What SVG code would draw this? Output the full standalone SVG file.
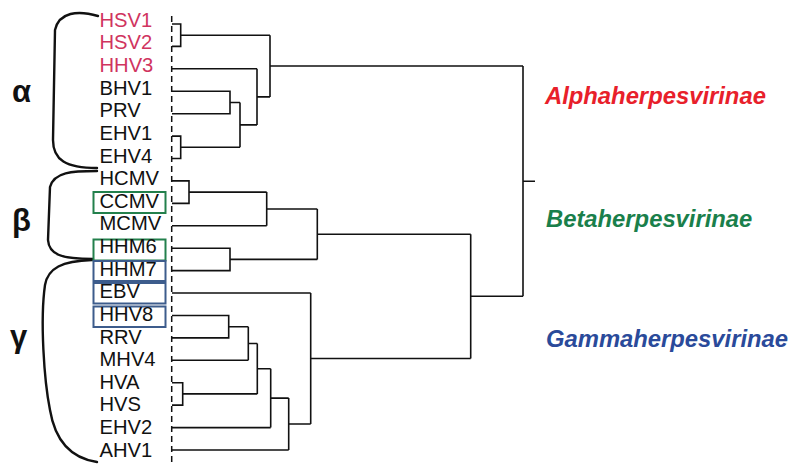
<svg xmlns="http://www.w3.org/2000/svg" width="790" height="464" viewBox="0 0 790 464">
<style>
.lbl{font-family:"Liberation Sans",Arial,sans-serif;font-size:20.2px;fill:#111}
.pink{fill:#d0345f}
.grk{font-family:"Liberation Sans",Arial,sans-serif;font-size:31px;font-weight:bold;fill:#111}
.fam{font-family:"Liberation Sans",Arial,sans-serif;font-size:23.8px;font-weight:bold;font-style:italic}
.tree{fill:none;stroke:#111;stroke-width:1.6}
.brace{fill:none;stroke:#111;stroke-width:2.4;stroke-linecap:round}
.gbox{fill:none;stroke:#23804c;stroke-width:2}
.bbox{fill:none;stroke:#3d5c8c;stroke-width:2}
</style>
<rect width="790" height="464" fill="#fff"/>
<g id="braces">
<path class="brace" d="M98,16 C78,10 59,12 55,30 L53,140 C53,160 66,168 97,168"/>
<path class="brace" d="M97,171 C72,171 54,172 50,187 L48,240 C49,254 60,259 93,259"/>
<path class="brace" d="M92,260 C62,261 48,268 45,285 C40,320 44,380 50,410 C55,440 70,458 97,462"/>
</g>
<g id="greek">
<text class="grk" x="12" y="101.7">α</text>
<text class="grk" x="12" y="231">β</text>
<text class="grk" x="10" y="347">γ</text>
</g>
<g id="boxes">
<rect class="gbox" x="93.5" y="192" width="72" height="21"/>
<rect class="gbox" x="93.5" y="239.5" width="72" height="21"/>
<rect class="bbox" x="93.5" y="261" width="72" height="20"/>
<rect class="bbox" x="93.5" y="283" width="72" height="20.5"/>
<rect class="bbox" x="93.5" y="306.5" width="72" height="20.5"/>
</g>
<g id="leaves">
<text class="lbl pink" x="99.5" y="26.7">HSV1</text>
<text class="lbl pink" x="99.5" y="49.3">HSV2</text>
<text class="lbl pink" x="99.5" y="72">HHV3</text>
<text class="lbl" x="99.5" y="94.6">BHV1</text>
<text class="lbl" x="99.5" y="117.2">PRV</text>
<text class="lbl" x="99.5" y="139.9">EHV1</text>
<text class="lbl" x="99.5" y="162.5">EHV4</text>
<text class="lbl" x="99.5" y="185.1">HCMV</text>
<text class="lbl" x="99.5" y="207.7">CCMV</text>
<text class="lbl" x="99.5" y="230.4">MCMV</text>
<text class="lbl" x="99.5" y="253">HHM6</text>
<text class="lbl" x="99.5" y="275.6">HHM7</text>
<text class="lbl" x="99.5" y="298.3">EBV</text>
<text class="lbl" x="99.5" y="320.9">HHV8</text>
<text class="lbl" x="99.5" y="343.5">RRV</text>
<text class="lbl" x="99.5" y="366.2">MHV4</text>
<text class="lbl" x="99.5" y="388.8">HVA</text>
<text class="lbl" x="99.5" y="411.4">HVS</text>
<text class="lbl" x="99.5" y="434">EHV2</text>
<text class="lbl" x="99.5" y="456.7">AHV1</text>
</g>
<g id="families">
<text class="fam" x="545" y="104" fill="#e8202a">Alphaherpesvirinae</text>
<text class="fam" x="546" y="227.3" fill="#1a7f4b">Betaherpesvirinae</text>
<text class="fam" x="546" y="346.7" fill="#2a4a9a">Gammaherpesvirinae</text>
</g>
<g id="connectors">
<line x1="171.7" y1="16" x2="171.7" y2="464" stroke="#111" stroke-width="1.5" stroke-dasharray="6,4"/>
<path class="tree" d="M172,24 H180.7 V46.4 H172 M180.7,35.2 H270 M172,68.8 H257 M172,91.3 H230 V113.7 H172 M230,102.5 H240 M172,136.1 H180.7 V158.5 H172 M180.7,147.3 H240 M240,102.5 V147.3 M240,124.9 H257 M257,68.8 V124.9 M257,96.9 H270 M270,35.2 V96.9 M270,66 H523"/>
<path class="tree" d="M172,180.9 H189 V203.4 H172 M189,192.1 H266.7 M172,225.8 H266.7 M266.7,192.1 V225.8 M266.7,209 H317.3 M172,248.2 H230 V270.6 H172 M230,259.4 H317.3 M317.3,209 V259.4 M317.3,234.2 H470.7"/>
<path class="tree" d="M172,293 H310.7 M172,315.5 H228.7 V337.9 H172 M228.7,326.7 H248.3 M172,360.3 H248.3 M248.3,326.7 V360.3 M248.3,343.5 H257.3 M172,382.7 H182.7 V405.1 H172 M182.7,393.9 H257.3 M257.3,343.5 V393.9 M257.3,368.7 H270.7 M172,427.6 H270.7 M270.7,368.7 V427.6 M270.7,398.1 H288.7 M172,450 H288.7 M288.7,398.1 V450 M288.7,424 H310.7 M310.7,293 V424 M310.7,358.5 H470.7 M470.7,234.2 V358.5 M470.7,296.3 H523 M523,66 V296.3 M523,181.2 H535"/>
</g>
</svg>
